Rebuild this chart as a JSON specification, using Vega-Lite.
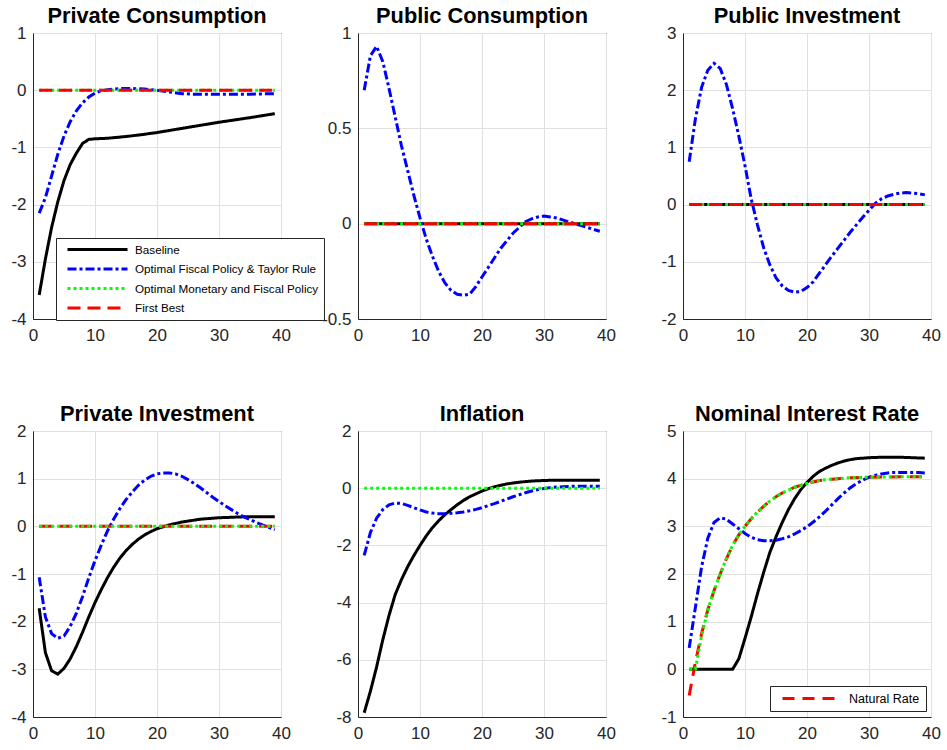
{
  "$schema": "https://vega.github.io/schema/vega-lite/v6.json",
  "padding": {"left": 10, "top": 5, "right": 0, "bottom": 0},
  "background": "white",
  "config": {
    "view": {"stroke": "#262626", "strokeWidth": 1},
    "axis": {"labelFont": "Liberation Sans", "labelFontSize": 17, "labelColor": "#262626", "domainColor": "#262626", "gridColor": "#e0e0e0", "gridWidth": 1, "ticks": false, "labelFlush": false, "labelOverlap": false, "labelExpr": "'' + datum.value"},
    "axisX": {"labelPadding": 8},
    "axisY": {"labelPadding": 7},
    "title": {"font": "Liberation Sans", "fontSize": 21.8, "fontWeight": "bold", "color": "#000000", "offset": -4},
    "line": {"strokeWidth": 3, "strokeCap": "butt"}
  },
  "datasets": {
    "p1": [
      {"t":1,"v":-3.58,"s":"B"},{"t":2,"v":-2.95,"s":"B"},{"t":3,"v":-2.4,"s":"B"},{"t":4,"v":-1.95,"s":"B"},{"t":5,"v":-1.58,"s":"B"},{"t":6,"v":-1.3,"s":"B"},{"t":7,"v":-1.1,"s":"B"},{"t":8,"v":-0.93,"s":"B"},{"t":9,"v":-0.86,"s":"B"},{"t":10,"v":-0.85,"s":"B"},{"t":12,"v":-0.84,"s":"B"},{"t":15,"v":-0.81,"s":"B"},{"t":18,"v":-0.77,"s":"B"},{"t":20,"v":-0.74,"s":"B"},{"t":25,"v":-0.65,"s":"B"},{"t":30,"v":-0.56,"s":"B"},{"t":35,"v":-0.48,"s":"B"},{"t":39,"v":-0.41,"s":"B"},
      {"t":1,"v":-2.15,"s":"T"},{"t":2,"v":-1.88,"s":"T"},{"t":3,"v":-1.5,"s":"T"},{"t":4,"v":-1.12,"s":"T"},{"t":5,"v":-0.8,"s":"T"},{"t":6,"v":-0.55,"s":"T"},{"t":7,"v":-0.36,"s":"T"},{"t":8,"v":-0.22,"s":"T"},{"t":9,"v":-0.12,"s":"T"},{"t":10,"v":-0.05,"s":"T"},{"t":11,"v":-0.01,"s":"T"},{"t":12,"v":0.01,"s":"T"},{"t":14,"v":0.03,"s":"T"},{"t":16,"v":0.03,"s":"T"},{"t":18,"v":0.02,"s":"T"},{"t":20,"v":0.0,"s":"T"},{"t":22,"v":-0.03,"s":"T"},{"t":24,"v":-0.06,"s":"T"},{"t":26,"v":-0.07,"s":"T"},{"t":30,"v":-0.07,"s":"T"},{"t":35,"v":-0.07,"s":"T"},{"t":39,"v":-0.06,"s":"T"},
      {"t":1,"v":0,"s":"M"},{"t":39,"v":0,"s":"M"},
      {"t":1,"v":0,"s":"F"},{"t":39,"v":0,"s":"F"}
    ],
    "p2": [
      {"t":1,"v":0,"s":"B"},{"t":39,"v":0,"s":"B"},
      {"t":1,"v":0.7,"s":"T"},{"t":2,"v":0.88,"s":"T"},{"t":3,"v":0.93,"s":"T"},{"t":4,"v":0.85,"s":"T"},{"t":5,"v":0.71,"s":"T"},{"t":6,"v":0.56,"s":"T"},{"t":7,"v":0.41,"s":"T"},{"t":8,"v":0.28,"s":"T"},{"t":9,"v":0.15,"s":"T"},{"t":10,"v":0.03,"s":"T"},{"t":11,"v":-0.08,"s":"T"},{"t":12,"v":-0.17,"s":"T"},{"t":13,"v":-0.25,"s":"T"},{"t":14,"v":-0.31,"s":"T"},{"t":15,"v":-0.35,"s":"T"},{"t":16,"v":-0.37,"s":"T"},{"t":17,"v":-0.375,"s":"T"},{"t":18,"v":-0.37,"s":"T"},{"t":19,"v":-0.33,"s":"T"},{"t":20,"v":-0.28,"s":"T"},{"t":21,"v":-0.23,"s":"T"},{"t":22,"v":-0.18,"s":"T"},{"t":23,"v":-0.13,"s":"T"},{"t":24,"v":-0.09,"s":"T"},{"t":25,"v":-0.05,"s":"T"},{"t":26,"v":-0.02,"s":"T"},{"t":27,"v":0.01,"s":"T"},{"t":28,"v":0.025,"s":"T"},{"t":29,"v":0.035,"s":"T"},{"t":30,"v":0.04,"s":"T"},{"t":31,"v":0.035,"s":"T"},{"t":32,"v":0.03,"s":"T"},{"t":33,"v":0.02,"s":"T"},{"t":34,"v":0.01,"s":"T"},{"t":35,"v":0.0,"s":"T"},{"t":36,"v":-0.01,"s":"T"},{"t":37,"v":-0.02,"s":"T"},{"t":38,"v":-0.03,"s":"T"},{"t":39,"v":-0.04,"s":"T"},
      {"t":1,"v":0,"s":"M"},{"t":39,"v":0,"s":"M"},
      {"t":1,"v":0,"s":"F"},{"t":39,"v":0,"s":"F"}
    ],
    "p3": [
      {"t":1,"v":0,"s":"B"},{"t":39,"v":0,"s":"B"},
      {"t":1,"v":0.75,"s":"T"},{"t":2,"v":1.5,"s":"T"},{"t":3,"v":2.05,"s":"T"},{"t":4,"v":2.35,"s":"T"},{"t":5,"v":2.47,"s":"T"},{"t":6,"v":2.38,"s":"T"},{"t":7,"v":2.1,"s":"T"},{"t":8,"v":1.68,"s":"T"},{"t":9,"v":1.2,"s":"T"},{"t":10,"v":0.68,"s":"T"},{"t":11,"v":0.1,"s":"T"},{"t":12,"v":-0.35,"s":"T"},{"t":13,"v":-0.75,"s":"T"},{"t":14,"v":-1.05,"s":"T"},{"t":15,"v":-1.28,"s":"T"},{"t":16,"v":-1.42,"s":"T"},{"t":17,"v":-1.5,"s":"T"},{"t":18,"v":-1.53,"s":"T"},{"t":19,"v":-1.52,"s":"T"},{"t":20,"v":-1.45,"s":"T"},{"t":21,"v":-1.35,"s":"T"},{"t":22,"v":-1.2,"s":"T"},{"t":23,"v":-1.05,"s":"T"},{"t":24,"v":-0.9,"s":"T"},{"t":25,"v":-0.76,"s":"T"},{"t":26,"v":-0.62,"s":"T"},{"t":27,"v":-0.48,"s":"T"},{"t":28,"v":-0.35,"s":"T"},{"t":29,"v":-0.22,"s":"T"},{"t":30,"v":-0.1,"s":"T"},{"t":31,"v":0.02,"s":"T"},{"t":32,"v":0.1,"s":"T"},{"t":33,"v":0.15,"s":"T"},{"t":34,"v":0.18,"s":"T"},{"t":35,"v":0.2,"s":"T"},{"t":36,"v":0.21,"s":"T"},{"t":37,"v":0.2,"s":"T"},{"t":38,"v":0.19,"s":"T"},{"t":39,"v":0.17,"s":"T"},
      {"t":1,"v":0,"s":"M"},{"t":39,"v":0,"s":"M"},
      {"t":1,"v":0,"s":"F"},{"t":39,"v":0,"s":"F"}
    ],
    "p4": [
      {"t":1,"v":-1.72,"s":"B"},{"t":2,"v":-2.65,"s":"B"},{"t":3,"v":-3.03,"s":"B"},{"t":4,"v":-3.1,"s":"B"},{"t":5,"v":-2.98,"s":"B"},{"t":6,"v":-2.78,"s":"B"},{"t":7,"v":-2.52,"s":"B"},{"t":8,"v":-2.22,"s":"B"},{"t":9,"v":-1.9,"s":"B"},{"t":10,"v":-1.6,"s":"B"},{"t":11,"v":-1.33,"s":"B"},{"t":12,"v":-1.08,"s":"B"},{"t":13,"v":-0.86,"s":"B"},{"t":14,"v":-0.67,"s":"B"},{"t":15,"v":-0.51,"s":"B"},{"t":16,"v":-0.38,"s":"B"},{"t":17,"v":-0.27,"s":"B"},{"t":18,"v":-0.18,"s":"B"},{"t":19,"v":-0.11,"s":"B"},{"t":20,"v":-0.05,"s":"B"},{"t":21,"v":-0.01,"s":"B"},{"t":22,"v":0.03,"s":"B"},{"t":23,"v":0.06,"s":"B"},{"t":24,"v":0.09,"s":"B"},{"t":25,"v":0.11,"s":"B"},{"t":26,"v":0.13,"s":"B"},{"t":27,"v":0.15,"s":"B"},{"t":28,"v":0.16,"s":"B"},{"t":29,"v":0.17,"s":"B"},{"t":30,"v":0.18,"s":"B"},{"t":32,"v":0.19,"s":"B"},{"t":34,"v":0.2,"s":"B"},{"t":36,"v":0.2,"s":"B"},{"t":39,"v":0.2,"s":"B"},
      {"t":1,"v":-1.07,"s":"T"},{"t":2,"v":-1.9,"s":"T"},{"t":3,"v":-2.25,"s":"T"},{"t":4,"v":-2.35,"s":"T"},{"t":5,"v":-2.3,"s":"T"},{"t":6,"v":-2.1,"s":"T"},{"t":7,"v":-1.82,"s":"T"},{"t":8,"v":-1.47,"s":"T"},{"t":9,"v":-1.08,"s":"T"},{"t":10,"v":-0.72,"s":"T"},{"t":11,"v":-0.4,"s":"T"},{"t":12,"v":-0.1,"s":"T"},{"t":13,"v":0.15,"s":"T"},{"t":14,"v":0.37,"s":"T"},{"t":15,"v":0.56,"s":"T"},{"t":16,"v":0.72,"s":"T"},{"t":17,"v":0.86,"s":"T"},{"t":18,"v":0.97,"s":"T"},{"t":19,"v":1.05,"s":"T"},{"t":20,"v":1.1,"s":"T"},{"t":21,"v":1.12,"s":"T"},{"t":22,"v":1.12,"s":"T"},{"t":23,"v":1.1,"s":"T"},{"t":24,"v":1.05,"s":"T"},{"t":25,"v":0.98,"s":"T"},{"t":26,"v":0.9,"s":"T"},{"t":27,"v":0.81,"s":"T"},{"t":28,"v":0.71,"s":"T"},{"t":29,"v":0.61,"s":"T"},{"t":30,"v":0.52,"s":"T"},{"t":31,"v":0.43,"s":"T"},{"t":32,"v":0.35,"s":"T"},{"t":33,"v":0.27,"s":"T"},{"t":34,"v":0.2,"s":"T"},{"t":35,"v":0.14,"s":"T"},{"t":36,"v":0.08,"s":"T"},{"t":37,"v":0.03,"s":"T"},{"t":38,"v":-0.02,"s":"T"},{"t":39,"v":-0.07,"s":"T"},
      {"t":1,"v":0,"s":"F"},{"t":39,"v":0,"s":"F"},
      {"t":1,"v":0,"s":"M"},{"t":39,"v":0,"s":"M"}
    ],
    "p5": [
      {"t":1,"v":-7.85,"s":"B"},{"t":2,"v":-7.1,"s":"B"},{"t":3,"v":-6.25,"s":"B"},{"t":4,"v":-5.3,"s":"B"},{"t":5,"v":-4.45,"s":"B"},{"t":6,"v":-3.72,"s":"B"},{"t":7,"v":-3.2,"s":"B"},{"t":8,"v":-2.75,"s":"B"},{"t":9,"v":-2.36,"s":"B"},{"t":10,"v":-2.0,"s":"B"},{"t":11,"v":-1.67,"s":"B"},{"t":12,"v":-1.38,"s":"B"},{"t":13,"v":-1.14,"s":"B"},{"t":14,"v":-0.93,"s":"B"},{"t":15,"v":-0.75,"s":"B"},{"t":16,"v":-0.58,"s":"B"},{"t":17,"v":-0.43,"s":"B"},{"t":18,"v":-0.3,"s":"B"},{"t":19,"v":-0.2,"s":"B"},{"t":20,"v":-0.1,"s":"B"},{"t":21,"v":-0.02,"s":"B"},{"t":22,"v":0.05,"s":"B"},{"t":23,"v":0.1,"s":"B"},{"t":24,"v":0.15,"s":"B"},{"t":25,"v":0.18,"s":"B"},{"t":26,"v":0.21,"s":"B"},{"t":27,"v":0.23,"s":"B"},{"t":28,"v":0.25,"s":"B"},{"t":29,"v":0.26,"s":"B"},{"t":30,"v":0.27,"s":"B"},{"t":32,"v":0.28,"s":"B"},{"t":34,"v":0.28,"s":"B"},{"t":36,"v":0.28,"s":"B"},{"t":39,"v":0.28,"s":"B"},
      {"t":1,"v":-2.35,"s":"T"},{"t":2,"v":-1.55,"s":"T"},{"t":3,"v":-1.05,"s":"T"},{"t":4,"v":-0.75,"s":"T"},{"t":5,"v":-0.58,"s":"T"},{"t":6,"v":-0.52,"s":"T"},{"t":7,"v":-0.53,"s":"T"},{"t":8,"v":-0.6,"s":"T"},{"t":9,"v":-0.68,"s":"T"},{"t":10,"v":-0.76,"s":"T"},{"t":11,"v":-0.83,"s":"T"},{"t":12,"v":-0.87,"s":"T"},{"t":13,"v":-0.89,"s":"T"},{"t":14,"v":-0.89,"s":"T"},{"t":15,"v":-0.88,"s":"T"},{"t":16,"v":-0.86,"s":"T"},{"t":17,"v":-0.83,"s":"T"},{"t":18,"v":-0.79,"s":"T"},{"t":19,"v":-0.74,"s":"T"},{"t":20,"v":-0.68,"s":"T"},{"t":21,"v":-0.61,"s":"T"},{"t":22,"v":-0.54,"s":"T"},{"t":23,"v":-0.46,"s":"T"},{"t":24,"v":-0.38,"s":"T"},{"t":25,"v":-0.3,"s":"T"},{"t":26,"v":-0.23,"s":"T"},{"t":27,"v":-0.16,"s":"T"},{"t":28,"v":-0.1,"s":"T"},{"t":29,"v":-0.05,"s":"T"},{"t":30,"v":-0.01,"s":"T"},{"t":31,"v":0.02,"s":"T"},{"t":32,"v":0.04,"s":"T"},{"t":33,"v":0.05,"s":"T"},{"t":34,"v":0.06,"s":"T"},{"t":35,"v":0.07,"s":"T"},{"t":39,"v":0.07,"s":"T"},
      {"t":1,"v":0,"s":"M"},{"t":39,"v":0,"s":"M"}
    ],
    "p6": [
      {"t":1,"v":0,"s":"B"},{"t":2,"v":0,"s":"B"},{"t":3,"v":0,"s":"B"},{"t":4,"v":0,"s":"B"},{"t":5,"v":0,"s":"B"},{"t":6,"v":0,"s":"B"},{"t":7,"v":0,"s":"B"},{"t":8,"v":0,"s":"B"},{"t":9,"v":0.22,"s":"B"},{"t":10,"v":0.65,"s":"B"},{"t":11,"v":1.1,"s":"B"},{"t":12,"v":1.58,"s":"B"},{"t":13,"v":2.03,"s":"B"},{"t":14,"v":2.45,"s":"B"},{"t":15,"v":2.78,"s":"B"},{"t":16,"v":3.08,"s":"B"},{"t":17,"v":3.35,"s":"B"},{"t":18,"v":3.58,"s":"B"},{"t":19,"v":3.77,"s":"B"},{"t":20,"v":3.92,"s":"B"},{"t":21,"v":4.05,"s":"B"},{"t":22,"v":4.15,"s":"B"},{"t":23,"v":4.22,"s":"B"},{"t":24,"v":4.28,"s":"B"},{"t":25,"v":4.33,"s":"B"},{"t":26,"v":4.37,"s":"B"},{"t":27,"v":4.4,"s":"B"},{"t":28,"v":4.42,"s":"B"},{"t":30,"v":4.44,"s":"B"},{"t":32,"v":4.45,"s":"B"},{"t":35,"v":4.45,"s":"B"},{"t":39,"v":4.43,"s":"B"},
      {"t":1,"v":0.45,"s":"T"},{"t":2,"v":1.3,"s":"T"},{"t":3,"v":2.15,"s":"T"},{"t":4,"v":2.75,"s":"T"},{"t":5,"v":3.08,"s":"T"},{"t":6,"v":3.18,"s":"T"},{"t":7,"v":3.15,"s":"T"},{"t":8,"v":3.05,"s":"T"},{"t":9,"v":2.95,"s":"T"},{"t":10,"v":2.85,"s":"T"},{"t":11,"v":2.77,"s":"T"},{"t":12,"v":2.72,"s":"T"},{"t":13,"v":2.7,"s":"T"},{"t":14,"v":2.7,"s":"T"},{"t":15,"v":2.71,"s":"T"},{"t":16,"v":2.74,"s":"T"},{"t":17,"v":2.78,"s":"T"},{"t":18,"v":2.84,"s":"T"},{"t":19,"v":2.91,"s":"T"},{"t":20,"v":2.99,"s":"T"},{"t":21,"v":3.09,"s":"T"},{"t":22,"v":3.2,"s":"T"},{"t":23,"v":3.32,"s":"T"},{"t":24,"v":3.45,"s":"T"},{"t":25,"v":3.58,"s":"T"},{"t":26,"v":3.7,"s":"T"},{"t":27,"v":3.81,"s":"T"},{"t":28,"v":3.9,"s":"T"},{"t":29,"v":3.97,"s":"T"},{"t":30,"v":4.03,"s":"T"},{"t":31,"v":4.07,"s":"T"},{"t":32,"v":4.1,"s":"T"},{"t":33,"v":4.12,"s":"T"},{"t":34,"v":4.13,"s":"T"},{"t":38,"v":4.13,"s":"T"},{"t":39,"v":4.12,"s":"T"},
      {"t":1,"v":-0.55,"s":"N"},{"t":2,"v":0.15,"s":"N"},{"t":3,"v":0.75,"s":"N"},{"t":4,"v":1.25,"s":"N"},{"t":5,"v":1.65,"s":"N"},{"t":6,"v":2.0,"s":"N"},{"t":7,"v":2.32,"s":"N"},{"t":8,"v":2.6,"s":"N"},{"t":9,"v":2.82,"s":"N"},{"t":10,"v":3.0,"s":"N"},{"t":11,"v":3.16,"s":"N"},{"t":12,"v":3.3,"s":"N"},{"t":13,"v":3.42,"s":"N"},{"t":14,"v":3.53,"s":"N"},{"t":15,"v":3.62,"s":"N"},{"t":16,"v":3.7,"s":"N"},{"t":17,"v":3.76,"s":"N"},{"t":18,"v":3.82,"s":"N"},{"t":19,"v":3.86,"s":"N"},{"t":20,"v":3.9,"s":"N"},{"t":21,"v":3.93,"s":"N"},{"t":22,"v":3.96,"s":"N"},{"t":23,"v":3.98,"s":"N"},{"t":24,"v":3.99,"s":"N"},{"t":25,"v":4.0,"s":"N"},{"t":27,"v":4.02,"s":"N"},{"t":30,"v":4.03,"s":"N"},{"t":35,"v":4.04,"s":"N"},{"t":39,"v":4.04,"s":"N"},
      {"t":1,"v":0,"s":"M"},{"t":2,"v":0,"s":"M"},{"t":3,"v":0.7,"s":"M"},{"t":4,"v":1.25,"s":"M"},{"t":5,"v":1.65,"s":"M"},{"t":6,"v":2.0,"s":"M"},{"t":7,"v":2.32,"s":"M"},{"t":8,"v":2.6,"s":"M"},{"t":9,"v":2.82,"s":"M"},{"t":10,"v":3.0,"s":"M"},{"t":11,"v":3.16,"s":"M"},{"t":12,"v":3.3,"s":"M"},{"t":13,"v":3.42,"s":"M"},{"t":14,"v":3.53,"s":"M"},{"t":15,"v":3.62,"s":"M"},{"t":16,"v":3.7,"s":"M"},{"t":17,"v":3.76,"s":"M"},{"t":18,"v":3.82,"s":"M"},{"t":19,"v":3.86,"s":"M"},{"t":20,"v":3.9,"s":"M"},{"t":21,"v":3.93,"s":"M"},{"t":22,"v":3.96,"s":"M"},{"t":23,"v":3.98,"s":"M"},{"t":24,"v":3.99,"s":"M"},{"t":25,"v":4.0,"s":"M"},{"t":27,"v":4.02,"s":"M"},{"t":30,"v":4.03,"s":"M"},{"t":35,"v":4.04,"s":"M"},{"t":39,"v":4.04,"s":"M"}
    ]
  },
  "columns": 3,
  "spacing": {"row": 112, "column": 77},
  "bounds": "flush",
  "resolve": {"scale": {"x": "independent", "y": "independent", "stroke": "independent", "strokeDash": "independent"}, "legend": {"stroke": "independent", "strokeDash": "independent"}},
  "concat": [
    {
      "width": 248, "height": 286, "title": "Private Consumption",
      "data": {"name": "p1"},
      "mark": {"type": "line"},
      "encoding": {
        "x": {"field": "t", "type": "quantitative", "title": null, "scale": {"domain": [0, 40], "nice": false}, "axis": {"values": [0, 10, 20, 30, 40]}},
        "y": {"field": "v", "type": "quantitative", "title": null, "scale": {"domain": [-4, 1], "nice": false, "zero": false}, "axis": {"values": [-4, -3, -2, -1, 0, 1]}},
        "stroke": {"field": "s", "type": "nominal", "scale": {"domain": ["B", "T", "M", "F"], "range": ["#000000", "#0000ff", "#00ff00", "#ff0000"]},
          "legend": {"orient": "none", "legendX": 23, "legendY": 205, "title": null, "symbolType": "M0,0H12", "symbolSize": 100, "symbolStrokeWidth": 3, "labelFont": "Liberation Sans", "labelFontSize": 11.7, "labelColor": "#000000", "labelOffset": 61, "padding": 5, "rowPadding": 5.5, "strokeColor": "#262626", "fillColor": "#ffffff", "cornerRadius": 0, "labelLimit": 400,
            "labelExpr": "{'B': 'Baseline', 'T': 'Optimal Fiscal Policy & Taylor Rule', 'M': 'Optimal Monetary and Fiscal Policy', 'F': 'First Best'}[datum.label]"}},
        "strokeDash": {"field": "s", "type": "nominal", "scale": {"domain": ["B", "T", "M", "F"], "range": [[1, 0], [9, 3, 3, 3], [3, 3], [13, 7]]},
          "legend": {"orient": "none", "legendX": 23, "legendY": 205, "title": null, "symbolType": "M0,0H12", "symbolSize": 100, "symbolStrokeWidth": 3, "labelFont": "Liberation Sans", "labelFontSize": 11.7, "labelColor": "#000000", "labelOffset": 61, "padding": 5, "rowPadding": 5.5, "strokeColor": "#262626", "fillColor": "#ffffff", "cornerRadius": 0, "labelLimit": 400,
            "labelExpr": "{'B': 'Baseline', 'T': 'Optimal Fiscal Policy & Taylor Rule', 'M': 'Optimal Monetary and Fiscal Policy', 'F': 'First Best'}[datum.label]"}}
      }
    },
    {
      "width": 248, "height": 286, "title": "Public Consumption",
      "data": {"name": "p2"},
      "mark": {"type": "line"},
      "encoding": {
        "x": {"field": "t", "type": "quantitative", "title": null, "scale": {"domain": [0, 40], "nice": false}, "axis": {"values": [0, 10, 20, 30, 40]}},
        "y": {"field": "v", "type": "quantitative", "title": null, "scale": {"domain": [-0.5, 1], "nice": false, "zero": false}, "axis": {"values": [-0.5, 0, 0.5, 1]}},
        "stroke": {"field": "s", "type": "nominal", "scale": {"domain": ["B", "T", "M", "F"], "range": ["#000000", "#0000ff", "#00ff00", "#ff0000"]}, "legend": null},
        "strokeDash": {"field": "s", "type": "nominal", "scale": {"domain": ["B", "T", "M", "F"], "range": [[1, 0], [9, 3, 3, 3], [3, 3], [13, 7]]}, "legend": null}
      }
    },
    {
      "width": 248, "height": 286, "title": "Public Investment",
      "data": {"name": "p3"},
      "mark": {"type": "line"},
      "encoding": {
        "x": {"field": "t", "type": "quantitative", "title": null, "scale": {"domain": [0, 40], "nice": false}, "axis": {"values": [0, 10, 20, 30, 40]}},
        "y": {"field": "v", "type": "quantitative", "title": null, "scale": {"domain": [-2, 3], "nice": false, "zero": false}, "axis": {"values": [-2, -1, 0, 1, 2, 3]}},
        "stroke": {"field": "s", "type": "nominal", "scale": {"domain": ["B", "T", "M", "F"], "range": ["#000000", "#0000ff", "#00ff00", "#ff0000"]}, "legend": null},
        "strokeDash": {"field": "s", "type": "nominal", "scale": {"domain": ["B", "T", "M", "F"], "range": [[1, 0], [9, 3, 3, 3], [3, 3], [13, 7]]}, "legend": null}
      }
    },
    {
      "width": 248, "height": 286, "title": "Private Investment",
      "data": {"name": "p4"},
      "mark": {"type": "line"},
      "encoding": {
        "x": {"field": "t", "type": "quantitative", "title": null, "scale": {"domain": [0, 40], "nice": false}, "axis": {"values": [0, 10, 20, 30, 40]}},
        "y": {"field": "v", "type": "quantitative", "title": null, "scale": {"domain": [-4, 2], "nice": false, "zero": false}, "axis": {"values": [-4, -3, -2, -1, 0, 1, 2]}},
        "stroke": {"field": "s", "type": "nominal", "scale": {"domain": ["B", "T", "M", "F"], "range": ["#000000", "#0000ff", "#00ff00", "#ff0000"]}, "legend": null},
        "strokeDash": {"field": "s", "type": "nominal", "scale": {"domain": ["B", "T", "M", "F"], "range": [[1, 0], [9, 3, 3, 3], [3, 3], [13, 7]]}, "legend": null}
      }
    },
    {
      "width": 248, "height": 286, "title": "Inflation",
      "data": {"name": "p5"},
      "mark": {"type": "line"},
      "encoding": {
        "x": {"field": "t", "type": "quantitative", "title": null, "scale": {"domain": [0, 40], "nice": false}, "axis": {"values": [0, 10, 20, 30, 40]}},
        "y": {"field": "v", "type": "quantitative", "title": null, "scale": {"domain": [-8, 2], "nice": false, "zero": false}, "axis": {"values": [-8, -6, -4, -2, 0, 2]}},
        "stroke": {"field": "s", "type": "nominal", "scale": {"domain": ["B", "T", "M", "F"], "range": ["#000000", "#0000ff", "#00ff00", "#ff0000"]}, "legend": null},
        "strokeDash": {"field": "s", "type": "nominal", "scale": {"domain": ["B", "T", "M", "F"], "range": [[1, 0], [9, 3, 3, 3], [3, 3], [13, 7]]}, "legend": null}
      }
    },
    {
      "width": 248, "height": 286, "title": "Nominal Interest Rate",
      "data": {"name": "p6"},
      "mark": {"type": "line"},
      "encoding": {
        "x": {"field": "t", "type": "quantitative", "title": null, "scale": {"domain": [0, 40], "nice": false}, "axis": {"values": [0, 10, 20, 30, 40]}},
        "y": {"field": "v", "type": "quantitative", "title": null, "scale": {"domain": [-1, 5], "nice": false, "zero": false}, "axis": {"values": [-1, 0, 1, 2, 3, 4, 5]}},
        "stroke": {"field": "s", "type": "nominal", "scale": {"domain": ["B", "T", "M", "N"], "range": ["#000000", "#0000ff", "#00ff00", "#ff0000"]},
          "legend": {"orient": "none", "legendX": 87, "legendY": 255, "title": null, "values": ["N"], "symbolType": "M0,0H11.6", "symbolSize": 100, "symbolStrokeWidth": 3, "labelFont": "Liberation Sans", "labelFontSize": 12.5, "labelColor": "#000000", "labelOffset": 60, "padding": 6, "strokeColor": "#262626", "fillColor": "#ffffff", "cornerRadius": 0, "labelExpr": "'Natural Rate'"}},
        "strokeDash": {"field": "s", "type": "nominal", "scale": {"domain": ["B", "T", "M", "N"], "range": [[1, 0], [9, 3, 3, 3], [3, 3], [12, 8]]},
          "legend": {"orient": "none", "legendX": 87, "legendY": 255, "title": null, "values": ["N"], "symbolType": "M0,0H11.6", "symbolSize": 100, "symbolStrokeWidth": 3, "labelFont": "Liberation Sans", "labelFontSize": 12.5, "labelColor": "#000000", "labelOffset": 60, "padding": 6, "strokeColor": "#262626", "fillColor": "#ffffff", "cornerRadius": 0, "labelExpr": "'Natural Rate'"}}
      }
    }
  ]
}
